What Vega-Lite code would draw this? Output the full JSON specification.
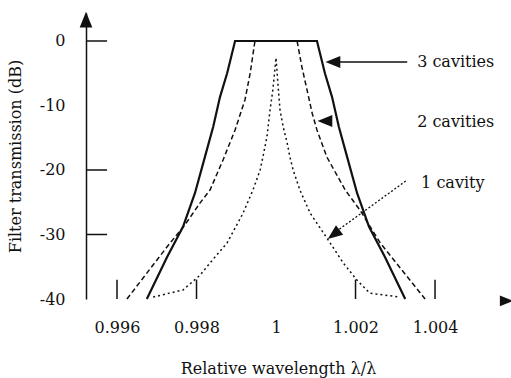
{
  "$schema": "https://vega.github.io/schema/vega-lite/v6.json",
  "width": 419,
  "height": 286,
  "autosize": {"type": "none"},
  "padding": {"left": 86, "top": 13, "right": 6, "bottom": 79},
  "background": "white",
  "config": {"view": {"stroke": null}, "font": "DejaVu Serif"},
  "datasets": {
    "c3": [
      {"x": 0.99675, "y": -40}, {"x": 0.99726, "y": -33.5}, {"x": 0.99766, "y": -28.8}, {"x": 0.99796, "y": -23.6},
      {"x": 0.99821, "y": -18}, {"x": 0.99842, "y": -13.3}, {"x": 0.99859, "y": -8.7}, {"x": 0.99877, "y": -5},
      {"x": 0.99897, "y": 0}, {"x": 1.00103, "y": 0}, {"x": 1.00123, "y": -5}, {"x": 1.00141, "y": -8.7},
      {"x": 1.00158, "y": -13.3}, {"x": 1.00179, "y": -18}, {"x": 1.00204, "y": -23.6}, {"x": 1.00234, "y": -28.8},
      {"x": 1.00274, "y": -33.5}, {"x": 1.00325, "y": -40}
    ],
    "c2": [
      {"x": 0.99625, "y": -40}, {"x": 0.99726, "y": -31.9}, {"x": 0.99771, "y": -28.5}, {"x": 0.99809, "y": -25.1},
      {"x": 0.99834, "y": -23.1}, {"x": 0.99867, "y": -18.4}, {"x": 0.99897, "y": -13.8}, {"x": 0.99922, "y": -9.1},
      {"x": 0.99935, "y": -5}, {"x": 0.99947, "y": 0}, {"x": 1.00053, "y": 0}, {"x": 1.00065, "y": -4},
      {"x": 1.00078, "y": -7.6}, {"x": 1.00091, "y": -11.2}, {"x": 1.00103, "y": -13.8}, {"x": 1.00128, "y": -18},
      {"x": 1.00174, "y": -23.1}, {"x": 1.00211, "y": -26.2}, {"x": 1.00262, "y": -31.3}, {"x": 1.00375, "y": -40}
    ],
    "c1": [
      {"x": 0.99691, "y": -39.7}, {"x": 0.99766, "y": -38.6}, {"x": 0.99809, "y": -36.3}, {"x": 0.99834, "y": -34.4},
      {"x": 0.99877, "y": -31.3}, {"x": 0.99917, "y": -26.7}, {"x": 0.99942, "y": -23.1}, {"x": 0.9996, "y": -20},
      {"x": 0.99967, "y": -18}, {"x": 0.99977, "y": -14.9}, {"x": 0.99985, "y": -10.7}, {"x": 0.99992, "y": -7.6},
      {"x": 1.0, "y": -2.6}, {"x": 1.00006, "y": -7.6}, {"x": 1.0001, "y": -10.7}, {"x": 1.00018, "y": -13.3},
      {"x": 1.00028, "y": -15.8}, {"x": 1.00035, "y": -18}, {"x": 1.00043, "y": -20}, {"x": 1.0006, "y": -23.1},
      {"x": 1.00086, "y": -26.7}, {"x": 1.00111, "y": -29}, {"x": 1.00136, "y": -31.3}, {"x": 1.00169, "y": -34.4},
      {"x": 1.00204, "y": -37.1}, {"x": 1.00236, "y": -39.1}, {"x": 1.00312, "y": -39.7}
    ],
    "ticks": [
      {"x": 0.99522, "x2": 0.99575, "y": 0, "y2": 0},
      {"x": 0.99522, "x2": 0.99575, "y": -20, "y2": -20},
      {"x": 0.99522, "x2": 0.99575, "y": -30, "y2": -30},
      {"x": 0.996, "x2": 0.996, "y": -40, "y2": -37},
      {"x": 0.998, "x2": 0.998, "y": -40, "y2": -37},
      {"x": 1.002, "x2": 1.002, "y": -40, "y2": -37},
      {"x": 1.004, "x2": 1.004, "y": -40, "y2": -37}
    ],
    "arrow3": [{"x": 1.00153, "x2": 1.0033, "y": -3.26, "y2": -3.26}],
    "arrow1": [{"x": 1.00143, "x2": 1.0033, "y": -29.9, "y2": -21.55}],
    "headUp": [{"x": 0.99522, "y": 3.3}],
    "headRight": [{"x": 1.0058, "y": -40.3}],
    "headLeft": [{"x": 1.00143, "y": -3.26}, {"x": 1.00123, "y": -12.4}],
    "headDownLeft": [{"x": 1.00145, "y": -30.0}],
    "labels": [
      {"x": 1.00355, "y": -3.26, "label": "3 cavities"},
      {"x": 1.00355, "y": -12.56, "label": "2 cavities"},
      {"x": 1.00365, "y": -22.0, "label": "1 cavity"}
    ]
  },
  "encoding": {
    "x": {
      "field": "x", "type": "quantitative",
      "scale": {"domain": [0.99522, 1.00576], "nice": false, "zero": false},
      "axis": {
        "values": [0.996, 0.998, 1, 1.002, 1.004],
        "domain": false, "ticks": false, "tickSize": 0, "grid": false,
        "labelExpr": "'' + datum.value", "labelFlush": false, "labelOverlap": false,
        "labelFont": "DejaVu Serif", "labelFontSize": 16, "labelColor": "#111",
        "labelPadding": 28, "labelBaseline": "middle",
        "title": "Relative wavelength λ/λ",
        "titleFont": "DejaVu Serif", "titleFontSize": 16, "titleFontWeight": "normal", "titleColor": "#111",
        "titleX": 192, "titleY": 69, "titleAlign": "center", "titleBaseline": "middle"
      }
    },
    "y": {
      "field": "y", "type": "quantitative",
      "scale": {"domain": [-40, 4.34], "nice": false, "zero": false},
      "axis": {
        "values": [0, -10, -20, -30, -40],
        "domain": true, "domainColor": "#111", "domainWidth": 1.5,
        "ticks": false, "tickSize": 0, "grid": false,
        "labelExpr": "'' + datum.value", "labelFlush": false, "labelOverlap": false,
        "labelFont": "DejaVu Serif", "labelFontSize": 16, "labelColor": "#111",
        "labelPadding": 21,
        "title": "Filter transmission (dB)",
        "titleFont": "DejaVu Serif", "titleFontSize": 16, "titleFontWeight": "normal", "titleColor": "#111",
        "titleX": -71, "titleY": 143, "titleAlign": "center", "titleBaseline": "middle", "titleAngle": -90
      }
    }
  },
  "layer": [
    {"data": {"name": "c3"}, "mark": {"type": "line", "color": "#111", "strokeWidth": 2.2}},
    {"data": {"name": "c2"}, "mark": {"type": "line", "color": "#111", "strokeWidth": 1.5, "strokeDash": [5, 3]}},
    {"data": {"name": "c1"}, "mark": {"type": "line", "color": "#111", "strokeWidth": 1.5, "strokeDash": [2, 3]}},
    {
      "data": {"name": "ticks"},
      "mark": {"type": "rule", "color": "#111", "strokeWidth": 1.5},
      "encoding": {"x2": {"field": "x2"}, "y2": {"field": "y2"}}
    },
    {
      "data": {"name": "arrow3"},
      "mark": {"type": "rule", "color": "#111", "strokeWidth": 1.5},
      "encoding": {"x2": {"field": "x2"}, "y2": {"field": "y2"}}
    },
    {
      "data": {"name": "arrow1"},
      "mark": {"type": "rule", "color": "#111", "strokeWidth": 1.3, "strokeDash": [2, 2]},
      "encoding": {"x2": {"field": "x2"}, "y2": {"field": "y2"}}
    },
    {
      "data": {"name": "headUp"},
      "mark": {"type": "point", "filled": true, "color": "#111", "opacity": 1, "shape": "M0,-1L0.8,1L-0.8,1Z", "size": 250, "angle": 0}
    },
    {
      "data": {"name": "headRight"},
      "mark": {"type": "point", "filled": true, "color": "#111", "opacity": 1, "shape": "M0,-1L0.8,1L-0.8,1Z", "size": 180, "angle": 90}
    },
    {
      "data": {"name": "headLeft"},
      "mark": {"type": "point", "filled": true, "color": "#111", "opacity": 1, "shape": "M0,-1L0.8,1L-0.8,1Z", "size": 220, "angle": 270}
    },
    {
      "data": {"name": "headDownLeft"},
      "mark": {"type": "point", "filled": true, "color": "#111", "opacity": 1, "shape": "M0,-1L0.8,1L-0.8,1Z", "size": 220, "angle": 233}
    },
    {
      "data": {"name": "labels"},
      "mark": {"type": "text", "align": "left", "baseline": "middle", "font": "DejaVu Serif", "fontSize": 16, "color": "#111"},
      "encoding": {"text": {"field": "label"}}
    }
  ]
}
